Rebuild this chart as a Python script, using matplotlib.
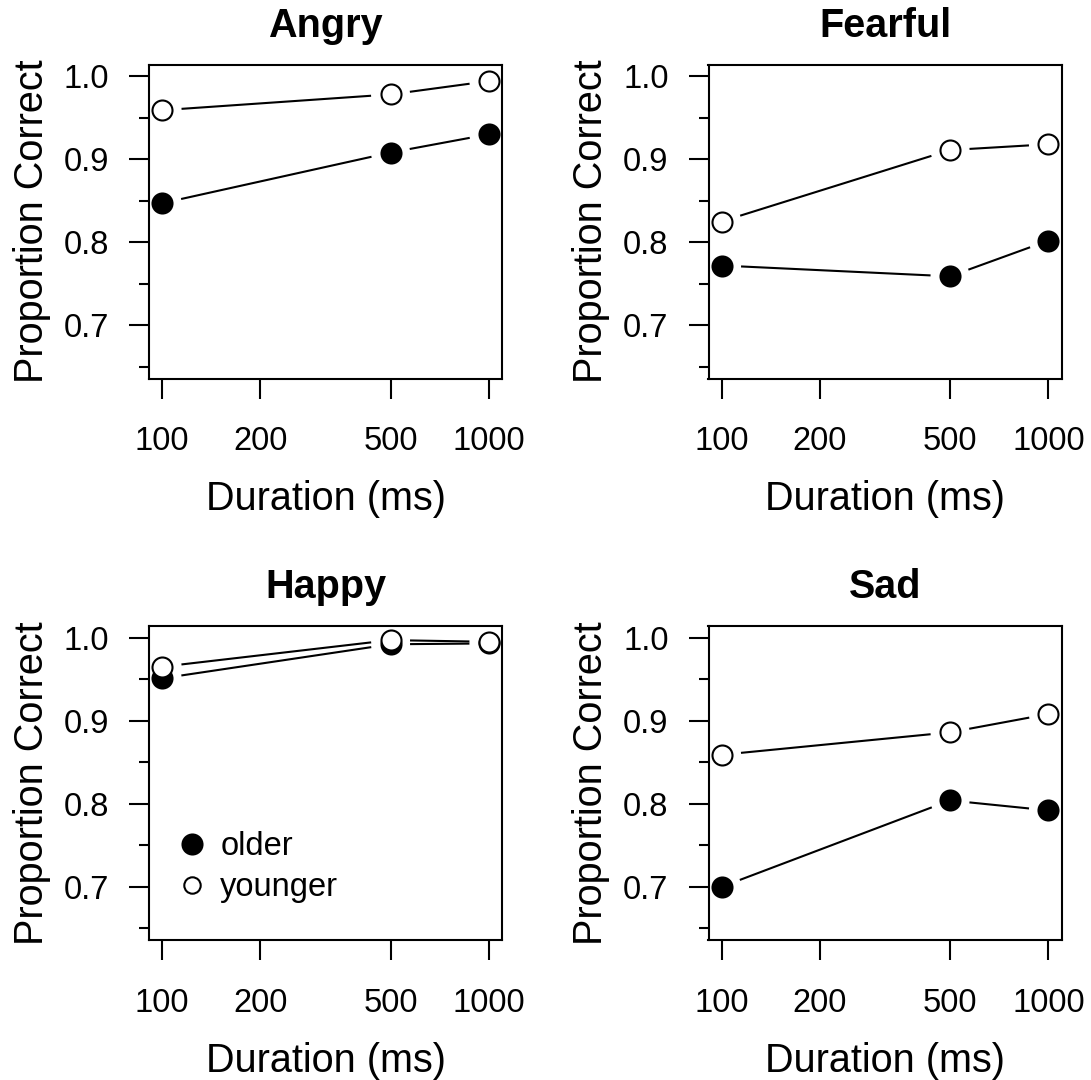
import numpy as np
import matplotlib
matplotlib.use("Agg")
import matplotlib.pyplot as plt
from matplotlib.lines import Line2D

plt.rcParams['font.family'] = ['Liberation Sans', 'DejaVu Sans']

durations = [100, 500, 1000]
emotions = ["Angry", "Fearful", "Happy", "Sad"]
older = {
    "Angry":   [0.847, 0.908, 0.930],
    "Fearful": [0.772, 0.759, 0.802],
    "Happy":   [0.951, 0.992, 0.993],
    "Sad":     [0.700, 0.804, 0.792],
}
younger = {
    "Angry":   [0.959, 0.978, 0.994],
    "Fearful": [0.825, 0.911, 0.918],
    "Happy":   [0.965, 0.997, 0.995],
    "Sad":     [0.859, 0.886, 0.908],
}
x_ticks = [100, 200, 500, 1000]
y_ticks_major = [0.7, 0.8, 0.9, 1.0]
y_ticks_minor = [0.65, 0.75, 0.85, 0.95]
group_labels = ["older", "younger"]

W, H = 1091, 1080
fig = plt.figure(figsize=(W / 100, H / 100), dpi=100)

lefts = [149, 708.5]
tops = [64.5, 626]
aw, ah = 353, 314

MS = 14.4
MEW = 1.5
LW = 1.5
GAP = 19.5
TICKFS = 23.5


def gapped_line(ax, x, y):
    pts = ax.transData.transform(np.column_stack([x, y]))
    inv = ax.transData.inverted()
    for i in range(len(pts) - 1):
        p0, p1 = pts[i], pts[i + 1]
        d = p1 - p0
        L = np.hypot(*d)
        if L <= 2 * GAP:
            continue
        u = d / L
        seg = inv.transform(np.array([p0 + u * GAP, p1 - u * GAP]))
        ax.plot(seg[:, 0], seg[:, 1], color='black', lw=LW,
                solid_capstyle='butt', zorder=2)


for idx, emo in enumerate(emotions):
    r, c = divmod(idx, 2)
    left = lefts[c]
    top = tops[r]
    ax = fig.add_axes([left / W, 1 - (top + ah) / H, aw / W, ah / H])
    ax.set_xscale('log')
    lx = np.log10(100), np.log10(1000)
    ext = 0.04 * (lx[1] - lx[0])
    ax.set_xlim(10 ** (lx[0] - ext), 10 ** (lx[1] + ext))
    ax.set_ylim(0.65 - 0.014, 1.0 + 0.014)

    gapped_line(ax, durations, older[emo])
    gapped_line(ax, durations, younger[emo])
    ax.plot(durations, older[emo], ls='none', marker='o', ms=MS,
            mfc='black', mec='black', mew=MEW, zorder=3)
    ax.plot(durations, younger[emo], ls='none', marker='o', ms=MS,
            mfc='white', mec='black', mew=MEW, zorder=4)

    ax.set_xticks(x_ticks)
    ax.set_xticklabels([str(v) for v in x_ticks])
    ax.xaxis.set_minor_locator(matplotlib.ticker.NullLocator())
    ax.set_yticks(y_ticks_major)
    ax.set_yticklabels([f"{v:.1f}" for v in y_ticks_major])
    ax.set_yticks(y_ticks_minor, minor=True)
    ax.tick_params(axis='both', which='major', direction='out', length=14.4,
                   width=1.5, labelsize=TICKFS, color='black')
    ax.tick_params(axis='y', which='minor', direction='out', length=7.2,
                   width=1.5, color='black')
    ax.tick_params(axis='x', pad=20)
    ax.tick_params(axis='y', pad=14.4)
    for s in ax.spines.values():
        s.set_linewidth(1.5)

    ax.set_title(emo, fontsize=28.5, fontweight='bold', pad=20)
    ax.set_xlabel("Duration (ms)", fontsize=28.5)
    ax.set_ylabel("Proportion Correct", fontsize=28.5)
    ax.xaxis.label.set_va('baseline')
    ax.xaxis.set_label_coords(0.5, -(510 - 378.3) / 314)
    ax.yaxis.label.set_va('baseline')
    ax.yaxis.set_label_coords(-(149 - 43) / 353, 0.5)

    if emo == "Happy":
        handles = [
            Line2D([], [], ls='none', marker='o', ms=MS, mfc='black', mec='black', mew=MEW),
            Line2D([], [], ls='none', marker='o', ms=MS * 0.82, mfc='white', mec='black', mew=MEW),
        ]
        ax.legend(handles, group_labels, loc='upper left',
                  bbox_to_anchor=(0.04, 0.388), frameon=False,
                  fontsize=TICKFS, handlelength=1.0, handletextpad=0.35,
                  labelspacing=0.3, borderaxespad=0)

fig.savefig("out.png", dpi=100)
